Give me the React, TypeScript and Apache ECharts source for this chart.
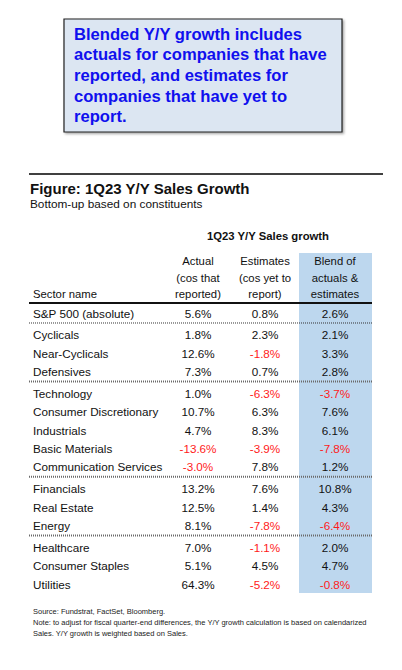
import React, { useEffect, useRef } from "react";
import * as echarts from "echarts";

const sectors = [
  "S&P 500 (absolute)",
  "Cyclicals",
  "Near-Cyclicals",
  "Defensives",
  "Technology",
  "Consumer Discretionary",
  "Industrials",
  "Basic Materials",
  "Communication Services",
  "Financials",
  "Real Estate",
  "Energy",
  "Healthcare",
  "Consumer Staples",
  "Utilities",
];
const actual = [5.6, 1.8, 12.6, 7.3, 1.0, 10.7, 4.7, -13.6, -3.0, 13.2, 12.5, 8.1, 7.0, 5.1, 64.3];
const estimates = [0.8, 2.3, -1.8, 0.7, -6.3, 6.3, 8.3, -3.9, 7.8, 7.6, 1.4, -7.8, -1.1, 4.5, -5.2];
const blend = [2.6, 2.1, 3.3, 2.8, -3.7, 7.6, 6.1, -7.8, 1.2, 10.8, 4.3, -6.4, 2.0, 4.7, -0.8];
const groupBreaks = [1, 4, 9, 12];

const calloutLines = [
  "Blended Y/Y growth includes",
  "actuals for companies that have",
  "reported, and estimates for",
  "companies that have yet to",
  "report.",
];
const title = "Figure: 1Q23 Y/Y Sales Growth";
const subtitle = "Bottom-up based on constituents";
const superHeader = "1Q23 Y/Y Sales growth";
const colHeaders = [
  ["Actual", "(cos that", "reported)"],
  ["Estimates", "(cos yet to", "report)"],
  ["Blend of", "actuals &", "estimates"],
];
const sectorHeader = "Sector name";
const footnotes = [
  "Source: Fundstrat, FactSet, Bloomberg.",
  "Note: to adjust for fiscal quarter-end differences, the Y/Y growth calculation is based on calendarized",
  "Sales. Y/Y growth is weighted based on Sales.",
];

const FONT = '"Liberation Sans", Arial, sans-serif';
const GAP = 0.2;

function rowPos(i: number) {
  const g = groupBreaks.filter((b) => b <= i).length;
  return i + GAP * g;
}

export default function App() {
  const ref = useRef<HTMLDivElement>(null);
  useEffect(() => {
    if (!ref.current) return;
    const chart = echarts.init(ref.current, null, { renderer: "svg" });
    const maxPos = rowPos(sectors.length - 1);
    const fmt = (v: number) => v.toFixed(1) + "%";
    const col = (v: number) => (v < 0 ? "#ff1a1a" : "#111111");

    const graphic: any[] = [
      {
        type: "rect",
        shape: { x: 64, y: 19, width: 278, height: 113 },
        style: {
          fill: "#dce6f2",
          stroke: "#222222",
          lineWidth: 1.2,
          shadowBlur: 2,
          shadowOffsetX: 1.5,
          shadowOffsetY: 1.5,
          shadowColor: "rgba(0,0,0,0.35)",
        },
        z: 0,
      },
      ...calloutLines.map((t, i) => ({
        type: "text",
        x: 74,
        y: 34 + i * 20.7,
        style: {
          text: t,
          fill: "#1010ee",
          fontFamily: FONT,
          fontWeight: "bold",
          fontSize: 16.6,
          textVerticalAlign: "middle",
        },
        z: 1,
      })),
      {
        type: "line",
        shape: { x1: 29, y1: 174, x2: 383, y2: 174 },
        style: { stroke: "#404040", lineWidth: 2 },
      },
      {
        type: "text",
        x: 30,
        y: 188,
        style: { text: title, fill: "#111", fontFamily: FONT, fontWeight: "bold", fontSize: 15, textVerticalAlign: "middle" },
      },
      {
        type: "text",
        x: 30,
        y: 203.5,
        style: { text: subtitle, fill: "#111", fontFamily: FONT, fontSize: 11.8, textVerticalAlign: "middle" },
      },
      {
        type: "text",
        x: 268,
        y: 236,
        style: {
          text: superHeader,
          fill: "#111",
          fontFamily: FONT,
          fontWeight: "bold",
          fontSize: 11.3,
          textAlign: "center",
          textVerticalAlign: "middle",
        },
      },
      {
        type: "rect",
        shape: { x: 299, y: 253, width: 73, height: 340 },
        style: { fill: "#bdd7ee" },
        z: 0,
      },
      {
        type: "text",
        x: 33,
        y: 294,
        style: { text: sectorHeader, fill: "#111", fontFamily: FONT, fontSize: 11.3, textVerticalAlign: "middle" },
      },
      {
        type: "line",
        shape: { x1: 29, y1: 303, x2: 372, y2: 303 },
        style: { stroke: "#111", lineWidth: 2 },
        z: 5,
      },
      ...footnotes.map((t, i) => ({
        type: "text",
        x: 33,
        y: 611 + i * 11,
        style: { text: t, fill: "#222", fontFamily: FONT, fontSize: 7.5, textVerticalAlign: "middle" },
      })),
    ];

    const headerX = [198, 265, 335];
    colHeaders.forEach((lines, c) => {
      lines.forEach((t, j) => {
        graphic.push({
          type: "text",
          x: headerX[c],
          y: 261 + j * 16.5,
          style: {
            text: t,
            fill: "#111",
            fontFamily: FONT,
            fontSize: 11.3,
            textAlign: "center",
            textVerticalAlign: "middle",
          },
          z: 2,
        });
      });
    });

    const data = sectors.map((_, i) => [0, rowPos(i), i]);

    chart.setOption({
      animation: false,
      grid: { left: 129.5, right: 67, top: 313, bottom: 86 },
      xAxis: { type: "value", min: 0, max: 3, show: false },
      yAxis: { type: "value", inverse: true, min: 0, max: maxPos, show: false },
      graphic,
      series: [
        {
          type: "custom",
          clip: false,
          z: 3,
          data,
          renderItem: (params: any, api: any) => {
            const i = api.value(2);
            const pos = api.value(1);
            const y = api.coord([0, pos])[1];
            const children: any[] = [];
            children.push({
              type: "text",
              x: 33,
              y,
              style: { text: sectors[i], fill: "#111", fontFamily: FONT, fontSize: 11.7, textVerticalAlign: "middle" },
            });
            const vals = [actual[i], estimates[i], blend[i]];
            vals.forEach((v, c) => {
              const x = api.coord([c + 1, pos])[0];
              children.push({
                type: "text",
                x: c === 1 ? x - 1.5 : x,
                y,
                style: {
                  text: fmt(v),
                  fill: col(v),
                  fontFamily: FONT,
                  fontSize: 11.7,
                  textAlign: "center",
                  textVerticalAlign: "middle",
                },
              });
            });
            if (i + 1 < sectors.length && groupBreaks.indexOf(i + 1) >= 0) {
              const yNext = api.coord([0, rowPos(i + 1)])[1];
              const ly = (y + yNext) / 2 - 1;
              const first = i === 0;
              children.push({
                type: "line",
                shape: { x1: 29, y1: ly, x2: 372, y2: ly },
                style: first
                  ? { stroke: "#333", lineWidth: 1, lineDash: [1, 1] }
                  : { stroke: "#6a6a6a", lineWidth: 2, lineDash: [1, 1] },
              });
            }
            return { type: "group", children };
          },
        },
      ],
    });
    return () => chart.dispose();
  }, []);
  return (
    <div
      ref={ref}
      style={{ position: "fixed", left: 0, top: 0, width: 402, height: 670, background: "#fff" }}
    />
  );
}
